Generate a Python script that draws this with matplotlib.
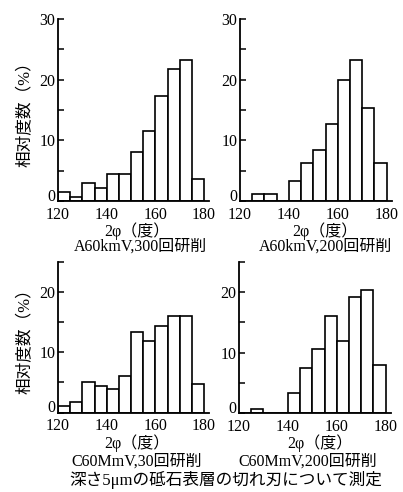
import numpy as np
import matplotlib
matplotlib.use('Agg')
import matplotlib.pyplot as plt
from matplotlib.ticker import MultipleLocator

plt.rcParams['font.family'] = ['Liberation Serif', 'Noto Sans CJK JP']
plt.rcParams['font.size'] = 12

# histogram bins: 2phi from 120 to 180 deg, 5 deg wide
bin_edges = np.arange(120, 181, 5)
a60_300 = [1.5, 0.7, 3.0, 2.2, 4.4, 4.4, 8.0, 11.5, 17.3, 21.7, 23.2, 3.6]
a60_200 = [0, 1.2, 1.2, 0, 3.3, 6.3, 8.4, 12.7, 19.9, 23.3, 15.4, 6.3]
c60_30 = [1.1, 1.8, 5.0, 4.4, 3.9, 6.1, 13.3, 11.9, 14.4, 16.0, 16.0, 4.8]
c60_200 = [0, 0.7, 0, 0, 3.3, 7.4, 10.6, 16.0, 11.9, 19.2, 20.4, 8.0]

captions = ['A60kmV,300回研削', 'A60kmV,200回研削', 'C60MmV,30回研削', 'C60MmV,200回研削']
xticks = [120, 140, 160, 180]

W, H = 403, 492
fig = plt.figure(figsize=(W / 100, H / 100), dpi=100)

# axes boxes in pixels: left, top, right, bottom
boxes = [(58, 19, 209, 201), (240, 19, 391.6, 201),
         (58, 262, 209, 412.5), (239, 262, 390.6, 413)]
series = [a60_300, a60_200, c60_30, c60_200]
ytops = [30, 30, 25, 25]

for i, (box, vals, ytop) in enumerate(zip(boxes, series, ytops)):
    l, t, r, b = box
    ax = fig.add_axes([l / W, 1 - b / H, (r - l) / W, (b - t) / H])
    ax.bar(bin_edges[:-1], vals, width=5, align='edge', color='white',
           edgecolor='black', linewidth=1.2)
    ax.set_xlim(120, 182)
    ax.set_ylim(0, ytop)
    ax.set_xticks(xticks)
    ax.set_yticks(range(0, ytop + 1, 10))
    ax.yaxis.set_minor_locator(MultipleLocator(5))
    ax.tick_params(axis='y', which='both', direction='in', length=4, width=1.1, pad=2, labelsize=11.5)
    ax.tick_params(axis='x', length=0, pad=4, labelsize=11.5)
    # the "0" sits just above the x axis in the original
    ax.yaxis.get_major_ticks()[0].label1.set_verticalalignment('baseline')
    for s in ['top', 'right']:
        ax.spines[s].set_visible(False)
    for s in ['left', 'bottom']:
        ax.spines[s].set_linewidth(1.3)
    if i % 2 == 0:
        ax.set_ylabel('相对度数（%）', fontsize=12, labelpad=4)

# x labels and captions under each panel (pixel centres)
xlab_pos = [(137, 231), (325, 231), (137, 443), (320, 443)]
cap_pos = [(140, 247), (326, 247), (137, 462), (308, 462)]
for (x, y) in xlab_pos:
    fig.text(x / W, 1 - y / H, '2φ（度）', ha='center', va='center', fontsize=11.5)
for (x, y), c in zip(cap_pos, captions):
    fig.text(x / W, 1 - y / H, c, ha='center', va='center', fontsize=11.5)
fig.text(226 / W, 1 - 480 / H, '深さ5μmの砥石表層の切れ刃について測定',
         ha='center', va='center', fontsize=12)

fig.savefig('out.png', dpi=100)
